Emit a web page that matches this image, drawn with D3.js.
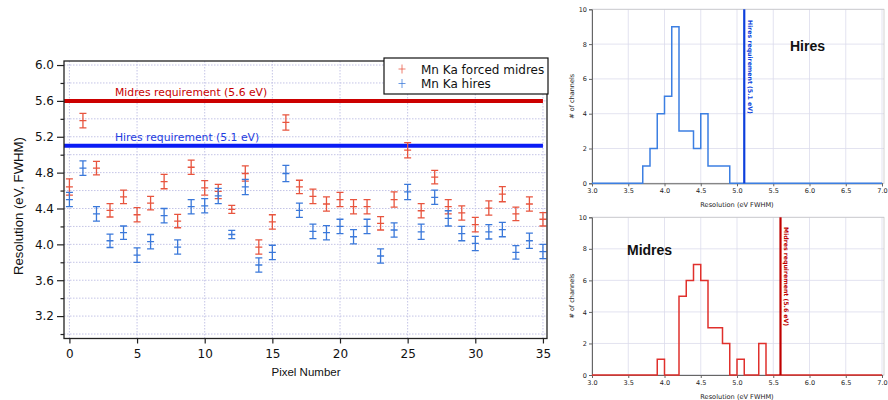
<!DOCTYPE html>
<html>
<head>
<meta charset="utf-8">
<script src="https://cdn.jsdelivr.net/npm/d3@7"></script>
<style>
  body { margin: 0; background: #fff; }
  svg { display: block; }
</style>
</head>
<body>
<svg id="chart" width="888" height="400"></svg>
<script>
// ---- data ----
const pixelNumbers = [0,1,2,3,4,5,6,7,8,9,10,11,12,13,14,15,16,17,18,19,20,21,22,23,24,25,26,27,28,29,30,31,32,33,34,35];
const midresRes = [4.64,5.38,4.85,4.38,4.53,4.33,4.46,4.70,4.26,4.86,4.63,4.59,4.39,4.79,3.97,4.25,5.36,4.64,4.535,4.45,4.50,4.42,4.42,4.235,4.50,5.05,4.375,4.75,4.42,4.35,4.22,4.405,4.56,4.34,4.45,4.28];
const midresErr = [0.09,0.08,0.075,0.075,0.075,0.08,0.075,0.08,0.075,0.08,0.08,0.08,0.045,0.085,0.08,0.08,0.085,0.075,0.08,0.08,0.08,0.08,0.08,0.075,0.085,0.085,0.08,0.075,0.08,0.08,0.08,0.08,0.085,0.075,0.08,0.075];
const hiresRes = [4.50,4.85,4.34,4.04,4.13,3.88,4.03,4.32,3.97,4.42,4.43,4.54,4.11,4.64,3.77,3.91,4.79,4.38,4.145,4.13,4.20,4.085,4.20,3.87,4.16,4.585,4.14,4.525,4.29,4.12,4.01,4.14,4.165,3.91,4.04,3.92];
const hiresErr = [0.08,0.08,0.08,0.075,0.075,0.08,0.08,0.08,0.08,0.08,0.08,0.085,0.045,0.085,0.08,0.08,0.09,0.08,0.08,0.08,0.08,0.08,0.08,0.08,0.08,0.085,0.085,0.08,0.085,0.08,0.08,0.08,0.08,0.075,0.085,0.08];
const seriesNames = ["Mn Ka forced midres", "Mn Ka hires"];
const midresRequirement = 5.6;
const hiresRequirement = 5.1;
const midresReqLabel = "Midres requirement (5.6 eV)";
const hiresReqLabel = "Hires requirement (5.1 eV)";
const yMajorTicks = [3.2,3.6,4.0,4.4,4.8,5.2,5.6,6.0];
const yMinorTicks = [3.0,3.4,3.8,4.2,4.6,5.0,5.4,5.8];
const xMajorTicks = [0,5,10,15,20,25,30,35];

// histogram of per-pixel resolution, 0.1 eV bins
const binWidth = 0.1;
const hiresBinStart = 3.7;
const hiresCounts = [1,2,4,5,9,3,3,2,4,1,1,1];
const midresBinStart = 3.9;
const midresCounts = [1,0,0,5,6,7,6,3,3,2,0,1,0,0,2];
const histXTicks = [3.0,3.5,4.0,4.5,5.0,5.5,6.0,6.5,7.0];
const histYTicks = [0,2,4,6,8,10];

// ---- colours ----
const midresColor = "#e8543e";
const hiresColor = "#3a78da";
const midresLineColor = "#cc0000";
const hiresLineColor = "#0a1cf5";
const gridColor = "#c4c4e6";
const fontMain = "'DejaVu Sans', Verdana, sans-serif";
const fontTitle = "'Liberation Sans', Arial, sans-serif";

const svg = d3.select("#chart");

// ================= main scatter with error bars =================
const x = d3.scaleLinear().domain([-0.4, 35.3]).range([64, 547]);
const y = d3.scaleLinear().domain([2.95, 6.045]).range([338.5, 61]);

const main = svg.append("g");

// dotted grid
const yGrid = yMajorTicks.concat(yMinorTicks);
main.append("g").selectAll("line").data(yGrid).join("line")
  .attr("x1", x.range()[0]).attr("x2", x.range()[1])
  .attr("y1", d => y(d)).attr("y2", d => y(d))
  .attr("stroke", gridColor).attr("stroke-width", 1).attr("stroke-dasharray", "1.5,1.5");
main.append("g").selectAll("line").data(xMajorTicks).join("line")
  .attr("x1", d => x(d)).attr("x2", d => x(d))
  .attr("y1", y.range()[0]).attr("y2", y.range()[1])
  .attr("stroke", gridColor).attr("stroke-width", 1).attr("stroke-dasharray", "1.5,1.5");

// requirement lines
main.append("line")
  .attr("x1", x(-0.4)).attr("x2", x(35))
  .attr("y1", y(midresRequirement)).attr("y2", y(midresRequirement))
  .attr("stroke", midresLineColor).attr("stroke-width", 4);
main.append("line")
  .attr("x1", x(-0.4)).attr("x2", x(35))
  .attr("y1", y(hiresRequirement)).attr("y2", y(hiresRequirement))
  .attr("stroke", hiresLineColor).attr("stroke-width", 4);
main.append("text")
  .attr("x", 115).attr("y", y(midresRequirement) - 5)
  .attr("font-family", fontMain).attr("font-size", 10.8)
  .attr("fill", "#c80000").text(midresReqLabel);
main.append("text")
  .attr("x", 115).attr("y", y(hiresRequirement) - 5)
  .attr("font-family", fontMain).attr("font-size", 10.8)
  .attr("fill", "#1e3ce0").text(hiresReqLabel);

// error bars
function drawSeries(values, errs, color) {
  const g = main.append("g").attr("stroke", color).attr("stroke-width", 1.3).attr("fill", "none");
  const pts = pixelNumbers.map((p, i) => ({ p, v: values[i], e: errs[i] }));
  const cap = 3.5;
  g.selectAll("path").data(pts).join("path")
    .attr("d", d => {
      const cx = x(d.p), top = y(d.v + d.e), bot = y(d.v - d.e), mid = y(d.v);
      return `M${cx},${top}V${bot}` +
        `M${cx - cap},${top}H${cx + cap}` +
        `M${cx - cap},${bot}H${cx + cap}` +
        `M${cx - cap},${mid}H${cx + cap}`;
    });
}
drawSeries(midresRes, midresErr, midresColor);
drawSeries(hiresRes, hiresErr, hiresColor);

// frame
main.append("rect")
  .attr("x", x.range()[0]).attr("y", y.range()[1])
  .attr("width", x.range()[1] - x.range()[0]).attr("height", y.range()[0] - y.range()[1])
  .attr("fill", "none").attr("stroke", "#222").attr("stroke-width", 1.3);

// axes
main.append("g").attr("transform", `translate(${x.range()[0]},0)`)
  .call(d3.axisLeft(y).tickValues(yMajorTicks).tickFormat(d3.format(".1f")).tickSize(7).tickPadding(3));
main.append("g").attr("transform", `translate(${x.range()[0]},0)`)
  .call(d3.axisLeft(y).tickValues(yMinorTicks).tickFormat("").tickSize(3.5));
main.append("g").attr("transform", `translate(0,${y.range()[0]})`)
  .call(d3.axisBottom(x).tickValues(xMajorTicks).tickFormat(d3.format("d")).tickSize(5).tickPadding(6));
main.selectAll(".domain").remove();
main.selectAll(".tick line").attr("stroke", "#222").attr("stroke-width", 1.2);
main.selectAll(".tick text").attr("font-family", fontMain).attr("font-size", 12).attr("fill", "#111");

main.append("text")
  .attr("transform", "translate(22.5,206) rotate(-90)")
  .attr("text-anchor", "middle").attr("font-family", fontTitle).attr("font-size", 13.2)
  .attr("fill", "#111").text("Resolution (eV, FWHM)");
main.append("text")
  .attr("x", 306).attr("y", 376)
  .attr("text-anchor", "middle").attr("font-family", fontTitle).attr("font-size", 11.5)
  .attr("fill", "#111").text("Pixel Number");

// legend
const legend = main.append("g").attr("transform", "translate(384,58)");
legend.append("rect").attr("width", 164).attr("height", 36)
  .attr("fill", "#fff").attr("stroke", "#111").attr("stroke-width", 1.2);
[midresColor, hiresColor].forEach((c, i) => {
  const ly = 11 + i * 14.5;
  legend.append("path")
    .attr("d", `M18,${ly - 4.5}V${ly + 4.5}M14.5,${ly}H21.5`)
    .attr("stroke", c).attr("stroke-width", 1).attr("fill", "none").attr("opacity", 0.75);
  legend.append("text").attr("x", 37).attr("y", ly + 4.5)
    .attr("font-family", fontMain).attr("font-size", 12).attr("fill", "#111")
    .text(seriesNames[i]);
});

// ================= histograms =================
function drawHistogram(opts) {
  const hx = d3.scaleLinear().domain([3.0, 7.0]).range([592, 882]);
  const hy = d3.scaleLinear().domain([0, 10]).range([opts.bottom, opts.top]);
  const g = svg.append("g");
  const histFont = "'DejaVu Sans', sans-serif";

  // grid
  g.append("g").selectAll("line").data(histXTicks).join("line")
    .attr("x1", d => hx(d)).attr("x2", d => hx(d))
    .attr("y1", hy(0)).attr("y2", hy(10))
    .attr("stroke", "#dcdcec").attr("stroke-width", 0.8);
  g.append("g").selectAll("line").data(histYTicks).join("line")
    .attr("x1", hx(3)).attr("x2", hx(7) + 2)
    .attr("y1", d => hy(d)).attr("y2", d => hy(d))
    .attr("stroke", "#dcdcec").attr("stroke-width", 0.8);
  g.append("rect")
    .attr("x", hx(3)).attr("y", hy(10))
    .attr("width", hx(7) + 2 - hx(3)).attr("height", hy(0) - hy(10))
    .attr("fill", "none").attr("stroke", "#c8c8c8").attr("stroke-width", 0.8);

  // axes
  g.append("g").attr("transform", `translate(0,${hy(0)})`)
    .call(d3.axisBottom(hx).tickValues(histXTicks).tickFormat(d3.format(".1f")).tickSize(3).tickPadding(2));
  g.append("g").attr("transform", `translate(${hx(3)},0)`)
    .call(d3.axisLeft(hy).tickValues(histYTicks).tickFormat(d3.format("d")).tickSize(3).tickPadding(2));
  g.selectAll(".domain").attr("stroke", "#666").attr("stroke-width", 1);
  g.selectAll(".tick line").attr("stroke", "#666");
  g.selectAll(".tick text").attr("font-family", histFont).attr("font-size", 6.5).attr("fill", "#222");

  g.append("text")
    .attr("x", (hx(3) + hx(7)) / 2).attr("y", hy(0) + 24)
    .attr("text-anchor", "middle").attr("font-family", histFont).attr("font-size", 6.6)
    .attr("fill", "#222").text("Resolution (eV FWHM)");
  g.append("text")
    .attr("transform", `translate(574,${(hy(0) + hy(10)) / 2}) rotate(-90)`)
    .attr("text-anchor", "middle").attr("font-family", histFont).attr("font-size", 6.5)
    .attr("fill", "#222").text("# of channels");

  // step outline of counts
  const pts = [[3.0, 0], [opts.binStart, 0]];
  opts.counts.forEach((c, i) => {
    const x0 = opts.binStart + i * binWidth;
    pts.push([x0, c], [x0 + binWidth, c]);
  });
  const end = opts.binStart + opts.counts.length * binWidth;
  pts.push([end, 0], [7.0, 0]);
  g.append("path")
    .attr("d", d3.line().x(d => hx(d[0])).y(d => hy(d[1]))(pts))
    .attr("fill", "none").attr("stroke", opts.color).attr("stroke-width", 1.5);

  // requirement marker
  g.append("line")
    .attr("x1", hx(opts.req)).attr("x2", hx(opts.req))
    .attr("y1", hy(0)).attr("y2", hy(10))
    .attr("stroke", opts.reqColor).attr("stroke-width", 2.2);
  g.append("text")
    .attr("transform", `translate(${hx(opts.req) + 3.5},${opts.labelY}) rotate(90)`)
    .attr("font-family", histFont).attr("font-size", 6.2).attr("font-weight", "bold")
    .attr("fill", opts.reqColor).text(opts.reqLabel);

  g.append("text")
    .attr("x", opts.nameX).attr("y", opts.nameY)
    .attr("font-family", fontTitle).attr("font-size", 14)
    .attr("font-weight", "bold").attr("fill", "#111").text(opts.name);
}

drawHistogram({
  top: 9.3, bottom: 183.3, counts: hiresCounts, binStart: hiresBinStart,
  color: "#3c7fe2", req: hiresRequirement, reqColor: "#0d3fdc",
  reqLabel: hiresReqLabel, labelY: 20, name: "Hires", nameX: 790, nameY: 51
});
drawHistogram({
  top: 217.3, bottom: 375, counts: midresCounts, binStart: midresBinStart,
  color: "#e0302c", req: midresRequirement, reqColor: "#c00000",
  reqLabel: midresReqLabel, labelY: 227, name: "Midres", nameX: 627, nameY: 255
});
</script>
</body>
</html>
